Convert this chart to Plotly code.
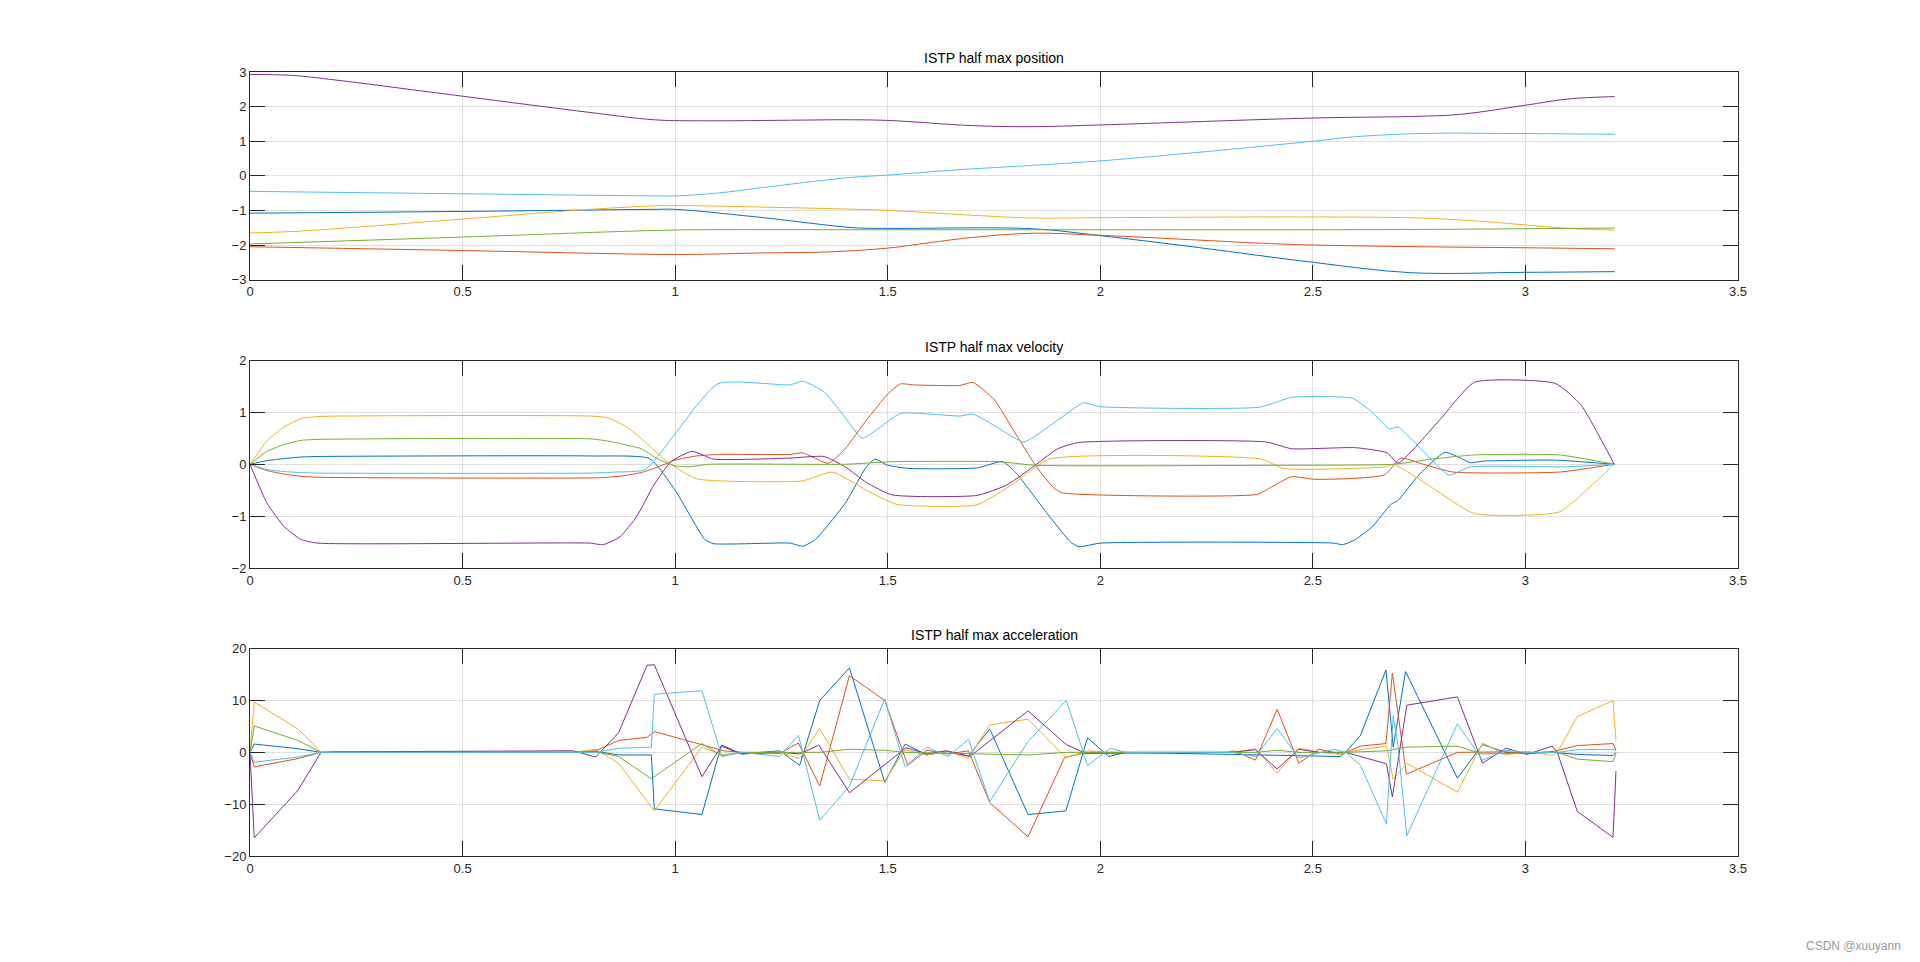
import plotly.graph_objects as go

# ---------------- colours (MATLAB default order) ----------------
series_names = ["joint1", "joint2", "joint3", "joint4", "joint5", "joint6"]
series_colors = ["#0072BD", "#D95319", "#EDB120", "#7E2F8E", "#77AC30", "#4DBEEE"]
titles = ["ISTP half max position", "ISTP half max velocity", "ISTP half max acceleration"]
x_ticks = [0, 0.5, 1, 1.5, 2, 2.5, 3, 3.5]

# ---------------- position ----------------
pos_t_1 = [0, 0.5, 0.95, 1.0, 1.2, 1.42, 1.5, 1.84, 2.0, 2.235, 2.5, 2.73, 3.0, 3.21]
pos_1 = [-1.08, -1.03, -0.97, -0.97, -1.2, -1.5, -1.52, -1.53, -1.73, -2.08, -2.5, -2.8, -2.79, -2.77]
pos_t_2 = [0, 0.5, 0.95, 1.05, 1.2, 1.36, 1.5, 1.6, 1.7, 1.84, 2.0, 2.235, 2.4, 2.5, 2.75, 3.0, 3.21]
pos_2 = [-2.05, -2.16, -2.27, -2.27, -2.23, -2.2, -2.09, -1.93, -1.78, -1.66, -1.72, -1.86, -1.96, -2.0, -2.05, -2.08, -2.11]
pos_t_3 = [0, 0.1, 0.5, 0.8, 0.95, 1.0, 1.3, 1.5, 1.67, 1.84, 2.0, 2.5, 2.75, 2.9, 3.0, 3.1, 3.21]
pos_3 = [-1.65, -1.61, -1.25, -0.97, -0.87, -0.86, -0.93, -1.0, -1.12, -1.22, -1.21, -1.19, -1.22, -1.32, -1.42, -1.52, -1.57]
pos_t_4 = [0, 0.1, 0.2, 0.5, 0.8, 0.95, 1.05, 1.3, 1.4, 1.5, 1.7, 1.84, 2.0, 2.5, 2.75, 2.85, 3.0, 3.1, 3.21]
pos_4 = [2.93, 2.9, 2.77, 2.3, 1.83, 1.62, 1.59, 1.61, 1.62, 1.6, 1.45, 1.42, 1.47, 1.67, 1.72, 1.78, 2.04, 2.22, 2.29]
pos_t_5 = [0, 0.5, 0.95, 1.05, 1.5, 2.0, 2.5, 2.75, 3.0, 3.21]
pos_5 = [-1.97, -1.77, -1.58, -1.56, -1.56, -1.56, -1.56, -1.55, -1.53, -1.51]
pos_t_6 = [0, 0.5, 0.95, 1.0, 1.1, 1.2, 1.3, 1.42, 1.5, 1.67, 1.84, 2.0, 2.25, 2.5, 2.6, 2.7, 2.8, 3.0, 3.21]
pos_6 = [-0.45, -0.52, -0.58, -0.58, -0.5, -0.35, -0.2, -0.04, 0.02, 0.18, 0.3, 0.43, 0.7, 1.0, 1.13, 1.2, 1.23, 1.22, 1.2]

# ---------------- velocity ----------------
vel_t_1 = [0, 0.04, 0.08, 0.12, 0.16, 0.8, 0.94, 1.0, 1.07, 1.09, 1.27, 1.30, 1.33, 1.40, 1.45, 1.47, 1.50, 1.55, 1.71, 1.77, 1.80, 1.88, 1.93, 1.95, 2.0, 2.55, 2.57, 2.6, 2.64, 2.684, 2.70, 2.75, 2.81, 2.84, 2.87, 2.9, 3.07, 3.209]
vel_1 = [0, 0.07, 0.11, 0.14, 0.15, 0.16, 0.11, -0.5, -1.45, -1.53, -1.52, -1.58, -1.45, -0.75, -0.05, 0.1, -0.02, -0.08, -0.07, 0.05, -0.15, -1.0, -1.5, -1.59, -1.52, -1.52, -1.55, -1.45, -1.2, -0.77, -0.7, -0.2, 0.23, 0.15, 0.03, 0.06, 0.08, 0]
vel_t_2 = [0, 0.04, 0.08, 0.12, 0.16, 0.82, 0.88, 0.92, 0.96, 1.0, 1.05, 1.10, 1.27, 1.30, 1.36, 1.40, 1.45, 1.50, 1.53, 1.56, 1.67, 1.70, 1.75, 1.80, 1.85, 1.89, 1.91, 2.37, 2.40, 2.45, 2.505, 2.6, 2.67, 2.707, 2.76, 2.83, 3.08, 3.209]
vel_2 = [0, -0.12, -0.19, -0.23, -0.25, -0.26, -0.22, -0.16, -0.05, 0.08, 0.16, 0.19, 0.19, 0.22, 0.02, 0.3, 0.85, 1.35, 1.55, 1.53, 1.52, 1.58, 1.25, 0.6, -0.05, -0.45, -0.55, -0.58, -0.45, -0.24, -0.29, -0.27, -0.2, 0.12, 0.0, -0.15, -0.15, 0]
vel_t_3 = [0, 0.04, 0.08, 0.12, 0.16, 0.80, 0.84, 0.88, 0.92, 0.96, 0.99, 1.05, 1.30, 1.37, 1.45, 1.52, 1.71, 1.80, 1.88, 2.38, 2.43, 2.67, 2.69, 2.78, 2.88, 3.08, 3.15, 3.209]
vel_3 = [0, 0.45, 0.72, 0.88, 0.92, 0.93, 0.9, 0.75, 0.5, 0.2, 0, -0.28, -0.32, -0.15, -0.5, -0.77, -0.78, -0.35, 0.1, 0.1, -0.08, -0.05, 0.0, -0.45, -0.95, -0.92, -0.45, 0]
vel_t_4 = [0, 0.04, 0.08, 0.12, 0.16, 0.80, 0.83, 0.87, 0.91, 0.95, 0.99, 1.04, 1.09, 1.27, 1.35, 1.40, 1.45, 1.51, 1.71, 1.78, 1.85, 1.90, 1.95, 2.39, 2.45, 2.60, 2.675, 2.70, 2.80, 2.88, 3.07, 3.13, 3.209]
vel_4 = [0, -0.75, -1.2, -1.45, -1.52, -1.52, -1.55, -1.4, -1.0, -0.4, 0.05, 0.25, 0.1, 0.12, 0.15, -0.05, -0.35, -0.59, -0.6, -0.4, 0.0, 0.3, 0.42, 0.43, 0.3, 0.32, 0.22, 0.02, 0.87, 1.58, 1.56, 1.15, 0]
vel_t_5 = [0, 0.04, 0.08, 0.12, 0.16, 0.80, 0.84, 0.88, 0.92, 0.96, 1.0, 1.03, 1.08, 1.40, 1.51, 1.76, 1.85, 2.39, 2.69, 2.78, 2.88, 3.08, 3.209]
vel_5 = [0, 0.25, 0.38, 0.46, 0.48, 0.49, 0.45, 0.38, 0.3, 0.1, -0.03, -0.05, 0.0, 0.0, 0.05, 0.05, -0.02, -0.02, 0.0, 0.1, 0.18, 0.18, 0]
vel_t_6 = [0, 0.04, 0.08, 0.12, 0.16, 0.80, 0.86, 0.93, 1.10, 1.27, 1.30, 1.35, 1.40, 1.44, 1.48, 1.53, 1.67, 1.70, 1.76, 1.82, 1.90, 1.96, 2.0, 2.374, 2.45, 2.594, 2.64, 2.68, 2.70, 2.76, 2.82, 2.87, 3.09, 3.209]
vel_6 = [0, -0.1, -0.14, -0.16, -0.17, -0.17, -0.15, -0.1, 1.55, 1.53, 1.6, 1.4, 0.9, 0.5, 0.7, 0.98, 0.93, 0.97, 0.7, 0.43, 0.85, 1.18, 1.11, 1.10, 1.29, 1.27, 1.0, 0.68, 0.72, 0.25, -0.21, -0.05, -0.05, 0]

# ---------------- acceleration ----------------
acc_t_1 = [0, 0.01, 0.113, 0.167, 0.76, 0.813, 0.867, 0.944, 0.951, 1.063, 1.108, 1.156, 1.246, 1.293, 1.34, 1.41, 1.493, 1.541, 1.592, 1.642, 1.69, 1.74, 1.83, 1.919, 1.97, 2.02, 2.06, 2.565, 2.577, 2.612, 2.672, 2.689, 2.718, 2.84, 2.899, 2.954, 3.004, 3.067, 3.122, 3.206, 3.213]
acc_1 = [0, 1.6, 0.7, 0, 0, 0.2, -0.5, -0.5, -10.9, -12, 1.2, -0.3, 0.3, -2.5, 10, 16.3, -5.8, 1.6, -0.5, 0.2, -0.7, 4.5, -12, -11.3, 2.8, -0.8, 0, -0.8, 0, 3.3, 15.9, 1.0, 15.6, -5.0, 1.5, 0, -0.2, 0, -0.4, -0.6, 0]
acc_t_2 = [0, 0.01, 0.113, 0.167, 0.76, 0.813, 0.867, 0.934, 0.952, 1.114, 1.16, 1.246, 1.29, 1.34, 1.41, 1.493, 1.547, 1.592, 1.642, 1.69, 1.74, 1.83, 1.916, 1.97, 2.3, 2.314, 2.365, 2.416, 2.467, 2.514, 2.565, 2.577, 2.612, 2.672, 2.687, 2.72, 2.84, 2.899, 2.954, 3.004, 3.067, 3.122, 3.206, 3.213]
acc_2 = [0, -2.8, -1.2, 0, 0, 0.3, 2.3, 2.9, 4.0, 0.3, 0, -0.2, 1.8, -6.5, 14.8, 10, -2.5, 0.4, -0.3, 0.3, -9.7, -16.3, -1.0, 0, 0, 0.3, -1.5, 8.3, -2.1, 0.6, -0.3, 0, 1.2, 1.7, 15.3, -4.2, 0, 0, 0.1, -0.2, 0.2, 1.3, 1.7, 0.4]
acc_t_3 = [0, 0.01, 0.113, 0.167, 0.76, 0.813, 0.867, 0.951, 1.063, 1.11, 1.156, 1.246, 1.293, 1.34, 1.41, 1.493, 1.541, 1.592, 1.642, 1.69, 1.74, 1.83, 1.919, 1.97, 2.02, 2.31, 2.365, 2.416, 2.467, 2.514, 2.565, 2.577, 2.612, 2.673, 2.689, 2.721, 2.84, 2.899, 2.954, 3.004, 3.063, 3.075, 3.122, 3.206, 3.213]
acc_3 = [0, 9.7, 4.5, 0, 0, 0.6, -2.1, -11.3, 1.0, -0.5, 0, 0, -1.2, 4.6, -5.2, -5.5, 0.5, -0.5, 0.2, -1.2, 5.3, 6.4, -1.0, 0.3, 0, 0, 0.7, -4.0, 0.8, 0, -0.4, 0, 0.5, 1.2, -5.2, -2.1, -7.7, 1.8, -0.5, 0.2, -0.6, 0, 6.9, 10, 2.3]
acc_t_4 = [0, 0.01, 0.113, 0.167, 0.2, 0.76, 0.813, 0.867, 0.934, 0.951, 1.063, 1.11, 1.156, 1.246, 1.293, 1.338, 1.41, 1.543, 1.592, 1.637, 1.693, 1.83, 1.92, 1.965, 2.31, 2.365, 2.416, 2.467, 2.514, 2.577, 2.673, 2.687, 2.721, 2.84, 2.899, 2.954, 3.004, 3.063, 3.075, 3.122, 3.206, 3.213]
acc_4 = [0, -16.5, -7.3, 0, 0.1, 0.3, -0.9, 3.8, 16.8, 16.9, -4.7, 1.4, -0.3, 0, -0.3, 1.4, -7.8, 0.9, -0.3, 0.3, -0.8, 8.0, 1.5, -0.2, 0, 0.5, -3.2, 0.6, 0, 0, -2.2, -8.6, 9.1, 10.7, -2.1, 0.8, -0.4, 1.2, 0, -11.4, -16.4, -3.6]
acc_t_5 = [0, 0.01, 0.113, 0.167, 0.76, 0.813, 0.867, 0.944, 1.063, 1.11, 1.16, 1.34, 1.41, 1.493, 1.541, 1.69, 1.83, 1.92, 2.365, 2.416, 2.467, 2.577, 2.673, 2.721, 2.84, 2.899, 3.075, 3.122, 3.206, 3.213]
acc_5 = [0, 5.1, 2.3, 0, 0, 0.1, -0.8, -5.1, 1.7, -0.7, 0, 0, 0.6, 0.4, 0, -0.2, -0.5, 0, 0, 0.4, 0, 0, 0.3, 1.0, 1.2, -0.3, 0, -1.3, -1.8, -0.3]
acc_t_6 = [0, 0.01, 0.113, 0.167, 0.76, 0.813, 0.867, 0.944, 0.951, 1.063, 1.11, 1.156, 1.246, 1.29, 1.34, 1.41, 1.493, 1.541, 1.592, 1.642, 1.69, 1.74, 1.83, 1.92, 1.97, 2.024, 2.06, 2.31, 2.365, 2.416, 2.467, 2.55, 2.577, 2.612, 2.673, 2.689, 2.70, 2.721, 2.84, 2.899, 2.954, 3.004, 3.075, 3.122, 3.206, 3.213]
acc_6 = [0, -1.9, -0.9, 0, 0, 0, 0.8, 1.0, 11.2, 11.9, -0.8, 0, -0.8, 3.3, -13.1, -6.5, 10.3, -2.8, 1.0, -0.8, 2.5, -9.5, 2.1, 10, -2.5, 0.8, 0, 0, -0.8, 4.6, -1.1, 0.6, 0, -2.5, -13.8, 7.0, 1.5, -16.1, 5.5, -1.5, 0.4, 0, 0, 0.5, 0.6, 0.3]

pos_sets = [(pos_t_1, pos_1), (pos_t_2, pos_2), (pos_t_3, pos_3), (pos_t_4, pos_4), (pos_t_5, pos_5), (pos_t_6, pos_6)]
vel_sets = [(vel_t_1, vel_1), (vel_t_2, vel_2), (vel_t_3, vel_3), (vel_t_4, vel_4), (vel_t_5, vel_5), (vel_t_6, vel_6)]
acc_sets = [(acc_t_1, acc_1), (acc_t_2, acc_2), (acc_t_3, acc_3), (acc_t_4, acc_4), (acc_t_5, acc_5), (acc_t_6, acc_6)]

fig = go.Figure()

panels = [
    (pos_sets, "x", "y", dict(shape="spline", smoothing=1.0)),
    (vel_sets, "x2", "y2", dict(shape="spline", smoothing=0.5)),
    (acc_sets, "x3", "y3", dict(shape="linear")),
]
for sets, xa, ya, shp in panels:
    for i, (tt, vv) in enumerate(sets):
        fig.add_trace(go.Scatter(
            x=tt, y=vv, mode="lines", name=series_names[i],
            line=dict(color=series_colors[i], width=1, **shp),
            xaxis=xa, yaxis=ya, showlegend=False, hoverinfo="x+y",
        ))

axis_common = dict(
    showline=True, mirror="ticks", linecolor="#262626", linewidth=1,
    ticks="inside", ticklen=15, tickwidth=1, tickcolor="#262626",
    showgrid=True, gridcolor="#dfdfdf", gridwidth=1, zeroline=False,
    tickfont=dict(family="Liberation Sans, Arial, sans-serif", size=13, color="#262626"),
)

domains = [[0.7352, 1.0], [0.3673, 0.632], [0.0, 0.2644]]
y_ranges = [[-3, 3], [-2, 2], [-20, 20]]
y_dticks = [1, 1, 10]

layout = dict(
    width=1920, height=962,
    margin=dict(l=250, r=182, t=72, b=106),
    paper_bgcolor="white", plot_bgcolor="white",
    showlegend=False,
)
for k in range(3):
    xn = "xaxis" if k == 0 else f"xaxis{k+1}"
    yn = "yaxis" if k == 0 else f"yaxis{k+1}"
    yref = "y" if k == 0 else f"y{k+1}"
    xref = "x" if k == 0 else f"x{k+1}"
    layout[xn] = dict(axis_common, domain=[0, 1], range=[0, 3.5], tickmode="array",
                      tickvals=x_ticks, ticktext=[f"{v:g}" for v in x_ticks], anchor=yref)
    layout[yn] = dict(axis_common, domain=domains[k], range=y_ranges[k], dtick=y_dticks[k],
                      tick0=0, anchor=xref)

annotations = []
for k in range(3):
    annotations.append(dict(
        text=titles[k], xref="paper", yref="paper", x=0.5, y=domains[k][1],
        xanchor="center", yanchor="bottom", yshift=4, showarrow=False,
        font=dict(family="Liberation Sans, Arial, sans-serif", size=14, color="#000000"),
    ))
annotations.append(dict(
    text="CSDN @xuuyann", xref="paper", yref="paper", x=1, y=0,
    xanchor="right", yanchor="middle", xshift=165, yshift=-90, showarrow=False,
    font=dict(family="Liberation Sans, Arial, sans-serif", size=12, color="#9a9a9a"),
))
layout["annotations"] = annotations

fig.update_layout(**layout)
fig.write_html("out.html")
